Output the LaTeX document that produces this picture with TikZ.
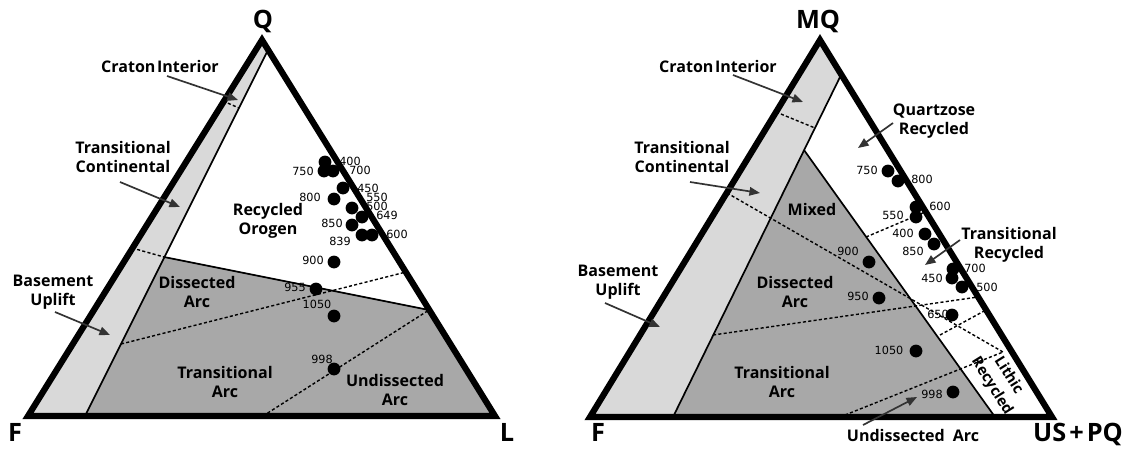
\documentclass[tikz,border=0pt]{standalone}
\usepackage{fontspec}
\newfontfamily\labfont{Open Sans}
\newfontfamily\numfont{DejaVu Sans}
\usetikzlibrary{arrows.meta}
\definecolor{lgray}{gray}{0.85}
\definecolor{dgray}{gray}{0.66}
\definecolor{arrgray}{gray}{0.2}
\begin{document}
\begin{tikzpicture}[x=0.025cm,y=-0.025cm,
  edge/.style={line width=4.4pt, line join=miter},
  innerline/.style={line width=1.2pt},
  dsh/.style={line width=1pt, dash pattern=on 2.2pt off 1.6pt},
  dot/.style={circle, fill=black, inner sep=0pt, minimum size=0.32cm},
  num/.style={font=\numfont\fontsize{8}{9}\selectfont, inner sep=0pt},
  lab/.style={font=\labfont\bfseries\fontsize{11.4}{13.8}\selectfont, align=center, inner sep=0pt},
  vtx/.style={font=\labfont\bfseries\fontsize{18}{20}\selectfont, inner sep=0pt},
  arr/.style={draw=arrgray, line width=1.2pt, -{Triangle[length=7.5pt,width=6pt]}}
]
\path[use as bounding box, fill=white] (0,0) rectangle (1128,448);

% ================= LEFT TRIANGLE =================
\coordinate (F1) at (28,416);
\coordinate (Q1) at (262,40);
\coordinate (L1) at (495,416);
\coordinate (ia) at (268,50);
\coordinate (ib) at (85,416);
\coordinate (ba) at (164,257);
\coordinate (bb) at (429,310);
% fills
\fill[lgray] (F1) -- (Q1) -- (ia) -- (ib) -- cycle;
\fill[dgray] (ba) -- (bb) -- (L1) -- (ib) -- cycle;
% dashed lines
\coordinate (c1a) at (223,101); \coordinate (c1b) at (239,108);
\draw[dsh] (c1a) -- (c1b);
\coordinate (t1a) at (132,248);
\draw[dsh] (t1a) -- (ba);
\coordinate (d1a) at (121,344); \coordinate (d1b) at (406,272);
\draw[dsh] (d1a) -- (d1b);
\coordinate (u1a) at (263,416);
\draw[dsh] (u1a) -- (bb);
% solid inner lines
\draw[innerline] (ib) -- (ia);
\draw[innerline] (ba) -- (bb);
% outer triangle
\draw[edge] (F1) -- (Q1) -- (L1) -- cycle;

% dots
\foreach \n/\p in {a/{(325,162)}, b/{(324,171)}, c/{(333,171)}, d/{(343,188)}, e/{(334,199)},
  f/{(352,208)}, g/{(362,217)}, h/{(352,225)}, i/{(362,235)}, j/{(372,235)},
  k/{(334,262)}, l/{(316,289)}, m/{(334,316)}, o/{(334,369)}}
  \node[dot] (ld\n) at \p {};
% numbers
\node[num] (ln400) at (350,161) {400};
\node[num] (ln750) at (303,171) {750};
\node[num] (ln700) at (360,170) {700};
\node[num] (ln450) at (368,188) {450};
\node[num] (ln800) at (310,197) {800};
\node[num] (ln550) at (377,197) {550};
\node[num] (ln500) at (377,206) {500};
\node[num] (ln649) at (387,215) {649};
\node[num] (ln850) at (332,223) {850};
\node[num] (ln600) at (397,234) {600};
\node[num] (ln839) at (340,241) {839};
\node[num] (ln900) at (313,260) {900};
\node[num] (ln955) at (295,287) {955};
\node[num] (ln1050) at (317,304) {1050};
\node[num] (ln998) at (322,359) {998};

% labels
\node[vtx] (lQ) at (263,21) {Q};
\node[vtx] (lF) at (15,432) {F};
\node[vtx] (lL) at (507,432) {L};
\node[lab] (lci) at (160,66) {Craton\hspace{0.1em}Interior};
\node[lab] (ltc) at (123,157) {Transitional\\Continental};
\node[lab] (lbu) at (53,292) {Basement\\Uplift};
\node[lab] (lro) at (268,221) {Recycled\\Orogen};
\node[lab] (lda) at (197,292) {Dissected\\Arc};
\node[lab] (lta) at (225,382) {Transitional\\Arc};
\node[lab] (lua) at (395,390) {Undissected\\Arc};
% arrows
\coordinate (a1s) at (167,76);  \coordinate (a1t) at (238,100);
\coordinate (a2s) at (120,182); \coordinate (a2t) at (180,207);
\coordinate (a3s) at (55,312);  \coordinate (a3t) at (110,335);
\draw[arr] (a1s) -- (a1t);
\draw[arr] (a2s) -- (a2t);
\draw[arr] (a3s) -- (a3t);

% ================= RIGHT TRIANGLE =================
\coordinate (F2) at (590,417);
\coordinate (M2) at (820,40);
\coordinate (R2) at (1052,417);
\coordinate (ja) at (841,75);
\coordinate (jb) at (673,417);
\coordinate (kt) at (804,150);
\coordinate (kb) at (995,417);
\fill[lgray] (F2) -- (M2) -- (ja) -- (jb) -- cycle;
\fill[dgray] (kt) -- (kb) -- (jb) -- cycle;
% dashed
\coordinate (c2a) at (776,112); \coordinate (c2b) at (815,128);
\draw[dsh] (c2a) -- (c2b);
\coordinate (t2a) at (727,193); \coordinate (lr) at (1003,352);
\draw[dsh] (t2a) -- (lr);
\coordinate (e2a) at (713,335); \coordinate (e2b) at (978,297);
\draw[dsh] (e2a) -- (e2b);
\coordinate (s2a) at (940,335); \coordinate (s2b) at (986,310);
\draw[dsh] (s2a) -- (s2b);
\coordinate (u2a) at (840,417);
\draw[dsh] (u2a) -- (lr);
\coordinate (q2a) at (866,237); \coordinate (q2b) at (925,212);
\draw[dsh] (q2a) -- (q2b);
% solid inner lines
\draw[innerline] (jb) -- (ja);
\draw[innerline] (kt) -- (kb);
% outer
\draw[edge] (F2) -- (M2) -- (R2) -- cycle;

% dots
\foreach \n/\p in {a/{(888,171)}, b/{(898,181)}, c/{(916,207)}, d/{(916,217)}, e/{(925,234)},
  f/{(934,244)}, g/{(953,269)}, h/{(952,278)}, i/{(962,287)}, j/{(869,262)},
  k/{(879,298)}, l/{(952,315)}, m/{(916,351)}, o/{(953,392)}}
  \node[dot] (rd\n) at \p {};
\node[num] (rn750) at (867,170) {750};
\node[num] (rn800) at (922,179) {800};
\node[num] (rn600) at (940,206) {600};
\node[num] (rn550) at (893,215) {550};
\node[num] (rn400) at (903,233) {400};
\node[num] (rn850) at (913,251) {850};
\node[num] (rn700) at (975,268) {700};
\node[num] (rn450) at (932,278) {450};
\node[num] (rn500) at (987,287) {500};
\node[num] (rn900) at (848,251) {900};
\node[num] (rn950) at (858,296) {950};
\node[num] (rn650) at (938,314) {650};
\node[num] (rn1050) at (889,350) {1050};
\node[num] (rn998) at (932,394) {998};

% labels
\node[vtx] (rMQ) at (818,21) {MQ};
\node[vtx] (rF) at (598,432) {F};
\node[vtx] (rUS) at (1078,434) {US\hspace{0.12em}+\hspace{0.12em}PQ};
\node[lab] (rci) at (718,66) {Craton\hspace{0.1em}Interior};
\node[lab] (rtc) at (682,157) {Transitional\\Continental};
\node[lab] (rbu) at (618,282) {Basement\\Uplift};
\node[lab] (rmx) at (812,209) {Mixed};
\node[lab] (rda) at (795,292) {Dissected\\Arc};
\node[lab] (rta) at (782,382) {Transitional\\Arc};
\node[lab] (rqr) at (934,121) {Quartzose\\Recycled};
\node[lab] (rtr) at (1009,245) {Transitional\\Recycled};
\node[lab, rotate=-58, font=\labfont\bfseries\fontsize{10.5}{14}\selectfont] (rlr) at (1000,381) {Lithic\\Recycled};
\node[lab] (rua) at (913,435) {Undissected\hspace{0.5em}Arc};
% arrows
\coordinate (b1s) at (733,75);  \coordinate (b1t) at (803,102);
\coordinate (b2s) at (690,182); \coordinate (b2t) at (760,193);
\coordinate (b3s) at (605,303); \coordinate (b3t) at (660,327);
\coordinate (b4s) at (893,123); \coordinate (b4t) at (858,148);
\coordinate (b5s) at (960,240); \coordinate (b5t) at (925,265);
\coordinate (b6s) at (863,425); \coordinate (b6t) at (917,397);
\draw[arr] (b1s) -- (b1t);
\draw[arr] (b2s) -- (b2t);
\draw[arr] (b3s) -- (b3t);
\draw[arr] (b4s) -- (b4t);
\draw[arr] (b5s) -- (b5t);
\draw[arr] (b6s) -- (b6t);
\end{tikzpicture}
\end{document}
